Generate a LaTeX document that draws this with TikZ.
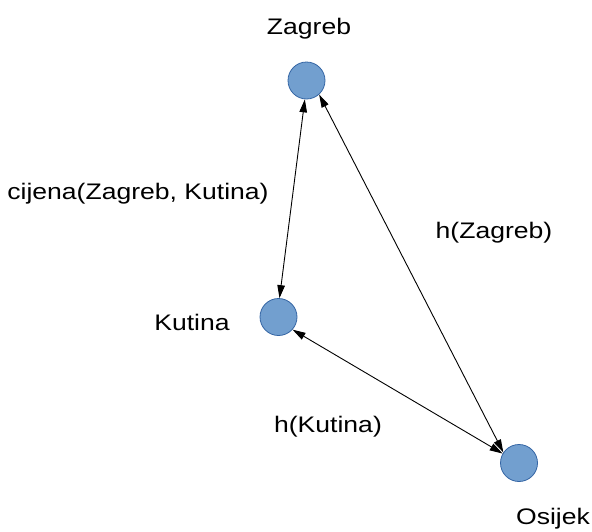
\documentclass[tikz,border=0pt]{standalone}
\usepackage{fontspec}
\setmainfont{Liberation Sans}[FakeStretch=1.18]
\usetikzlibrary{arrows.meta}
\definecolor{cityfill}{HTML}{729FCF}
\definecolor{cityline}{HTML}{3465A4}
\tikzset{
  city/.style={circle, fill=cityfill, draw=cityline, line width=0.8pt, minimum size=37pt, inner sep=0pt},
  lbl/.style={anchor=base, inner sep=0pt, font=\fontsize{22.5}{27}\selectfont},
  link/.style={black, line width=0.9pt, {Triangle[length=13pt,width=7.5pt]}-{Triangle[length=13pt,width=7.5pt]}}
}
\begin{document}
\begin{tikzpicture}[x=1pt,y=-1pt]
\useasboundingbox (0,0) rectangle (592,531);
\node[city] (zagreb) at (306.5,80.5) {};
\node[city] (kutina) at (278.5,317) {};
\node[city] (osijek) at (519,463) {};
\node[lbl] (tzagreb) at (309,34) {Zagreb};
\node[lbl] (tkutina) at (192,330) {Kutina};
\node[lbl] (tosijek) at (553,524.5) {Osijek};
\node[lbl] (tcijena) at (138,199) {cijena(Zagreb, Kutina)};
\node[lbl] (thz) at (494,238) {h(Zagreb)};
\node[lbl] (thk) at (328,432) {h(Kutina)};
\draw[link] (zagreb.-95) -- (kutina.87);
\draw[link] (zagreb.-48) -- (osijek.146);
\draw[link] (kutina.-42) -- (osijek.150);
\end{tikzpicture}
\end{document}
